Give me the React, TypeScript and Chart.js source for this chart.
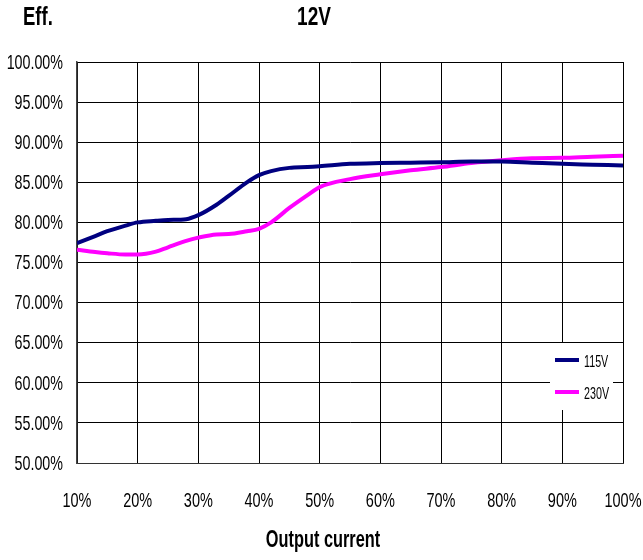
import React, { useEffect, useRef } from "react";
import { Chart, registerables } from "chart.js";

Chart.register(...registerables);

const loadPct = [10, 13, 15, 18, 20, 23, 25, 28, 30, 33, 35, 38, 40, 42, 45, 48, 50, 55, 60, 65, 70, 75, 80, 85, 90, 95, 100];
const eff115 = [77.4, 78.3, 78.9, 79.6, 80.0, 80.2, 80.3, 80.4, 80.9, 82.2, 83.3, 85.0, 85.9, 86.4, 86.8, 86.9, 87.0, 87.3, 87.4, 87.45, 87.5, 87.6, 87.6, 87.45, 87.3, 87.2, 87.1];
const eff230 = [76.6, 76.3, 76.15, 76.0, 76.0, 76.35, 76.9, 77.7, 78.1, 78.5, 78.55, 78.9, 79.2, 80.0, 81.8, 83.4, 84.4, 85.4, 86.0, 86.5, 86.9, 87.4, 87.75, 88.0, 88.05, 88.2, 88.3];
const seriesLabels = ["115V", "230V"];
const chartTitle = "12V";
const yTitle = "Eff.";
const xTitle = "Output current";

const SANS = '"Liberation Sans", Arial, sans-serif';
const NARROW_X = 0.7;

function narrowText(ctx: any, text: string, x: number, y: number, font: string, align: "left" | "right" | "center", sx = NARROW_X) {
  ctx.save();
  ctx.font = font;
  ctx.textAlign = align;
  ctx.textBaseline = "middle";
  ctx.fillStyle = "#000";
  ctx.translate(x, y);
  ctx.scale(sx, 1);
  ctx.fillText(text, 0, 0);
  ctx.restore();
}

const overlayPlugin = {
  id: "overlay",
  afterDraw(chart: any) {
    const { ctx, chartArea, scales } = chart;
    // tick labels
    scales.y.ticks.forEach((t: any) => {
      const py = scales.y.getPixelForValue(t.value);
      narrowText(ctx, `${Number(t.value).toFixed(2)}%`, chartArea.left - 14, py + 1, `21px ${SANS}`, "right", 0.68);
    });
    scales.x.ticks.forEach((t: any) => {
      const px = scales.x.getPixelForValue(t.value);
      narrowText(ctx, `${t.value}%`, px, chartArea.bottom + 38, `21px ${SANS}`, "center", 0.69);
    });
    // titles
    narrowText(ctx, chartTitle, 314, 18, `bold 25px ${SANS}`, "center", 0.76);
    narrowText(ctx, yTitle, 23, 18, `bold 25px ${SANS}`, "left", 0.74);
    narrowText(ctx, xTitle, 323, 541, `bold 23px ${SANS}`, "center", 0.71);

    // legend
    ctx.save();
    const bx = chartArea.right - 73;
    const by = chartArea.top + 281;
    ctx.fillStyle = "#fff";
    ctx.fillRect(bx, by, 63, 67);
    chart.data.datasets.forEach((ds: any, i: number) => {
      const ly = by + 17 + i * 32;
      ctx.strokeStyle = ds.borderColor;
      ctx.lineWidth = 4;
      ctx.beginPath();
      ctx.moveTo(bx + 5, ly);
      ctx.lineTo(bx + 29, ly);
      ctx.stroke();
      narrowText(ctx, ds.label, bx + 34, ly + 3, `16px ${SANS}`, "left", 0.67);
    });
    ctx.restore();
  },
};

export default function App() {
  const ref = useRef<HTMLCanvasElement | null>(null);

  useEffect(() => {
    if (!ref.current) return;
    const chart = new Chart(ref.current, {
      type: "line",
      data: {
        datasets: [
          {
            label: seriesLabels[0],
            data: loadPct.map((x, i) => ({ x, y: eff115[i] })),
            borderColor: "#000080",
            backgroundColor: "#000080",
            borderWidth: 4,
            pointRadius: 0,
            cubicInterpolationMode: "monotone",
          },
          {
            label: seriesLabels[1],
            data: loadPct.map((x, i) => ({ x, y: eff230[i] })),
            borderColor: "#ff00ff",
            backgroundColor: "#ff00ff",
            borderWidth: 4,
            pointRadius: 0,
            cubicInterpolationMode: "monotone",
          },
        ],
      },
      options: {
        animation: false,
        responsive: false,
        maintainAspectRatio: false,
        layout: { padding: { top: 62, right: 20, bottom: 0, left: 0 } },
        plugins: {
          legend: { display: false },
          title: { display: false },
          tooltip: { enabled: false },
        },
        scales: {
          x: {
            type: "linear",
            min: 10,
            max: 100,
            ticks: { stepSize: 10, display: false },
            grid: { color: "#000", lineWidth: 1, drawTicks: false },
            border: { color: "#333", width: 1 },
            afterFit: (s: any) => {
              s.height = 97;
              s.paddingLeft = 0;
              s.paddingRight = 0;
            },
          },
          y: {
            min: 50,
            max: 100,
            ticks: { stepSize: 5, display: false },
            grid: { color: "#000", lineWidth: 1, drawTicks: false },
            border: { color: "#444", width: 1.5 },
            afterFit: (s: any) => {
              s.width = 77;
              s.paddingTop = 0;
              s.paddingBottom = 0;
            },
          },
        },
      },
      plugins: [overlayPlugin],
    } as any);
    return () => chart.destroy();
  }, []);

  return (
    <div style={{ position: "absolute", left: 0, top: 0, width: 643, height: 560, background: "#fff" }}>
      <canvas ref={ref} width={643} height={560} style={{ width: 643, height: 560 }} />
    </div>
  );
}
